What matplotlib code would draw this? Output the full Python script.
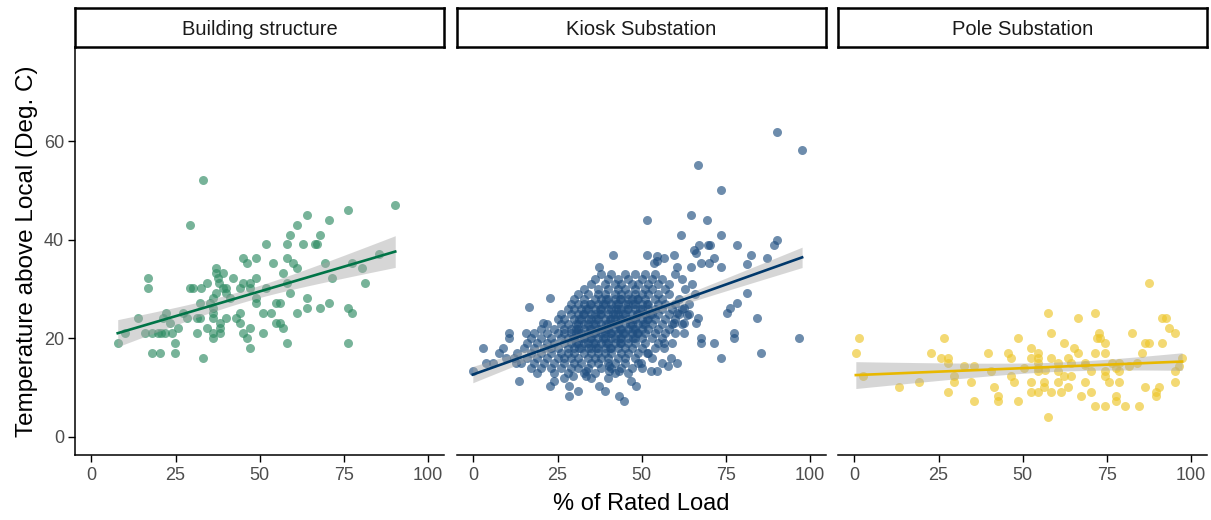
import numpy as np
import matplotlib
matplotlib.use("Agg")
import matplotlib.pyplot as plt

plt.rcParams['font.family'] = ['Liberation Sans', 'DejaVu Sans']

panel_titles = ["Building structure", "Kiosk Substation", "Pole Substation"]
point_colors = ["#2E8B63", "#1F4E80", "#EDC62A"]
line_colors = ["#007447", "#00386B", "#E8B800"]

# ---------------- Building structure ----------------
building_x = [7.8, 9.9, 13.9, 15.9, 16.9, 16.9, 17.9, 20.4, 17.9, 19.9, 20.8, 21.8, 23.8, 22.3, 21.4,
              23.3, 24.8, 24.8, 25.8, 27.3, 28.3, 29.2, 29.2, 30.2, 31.3, 31.3, 32.3, 32.3, 32.6, 33.2,
              33.2, 34.2, 34.2, 35.2, 36.1, 36.1, 36.1, 36.1, 36.1, 36.1, 37.1, 37.1, 37.5, 38.0, 37.1,
              38.1, 38.1, 38.1, 39.2, 39.1, 40.1, 40.1, 40.1, 41.1, 42.1, 43.1, 44.1, 44.1, 44.1, 45.1,
              45.1, 46.1, 45.1, 46.1, 47.1, 47.1, 47.1, 47.1, 49.0, 49.0, 49.0, 49.0, 51.0, 51.0, 52.0,
              52.0, 53.5, 54.0, 55.0, 56.0, 55.0, 56.0, 57.0, 57.0, 58.0, 58.0, 58.0, 58.0, 59.0, 59.0,
              60.0, 61.0, 61.0, 61.0, 63.0, 64.0, 64.0, 64.0, 67.0, 66.5, 68.0, 68.0, 69.5, 70.5, 70.5,
              71.4, 76.4, 76.4, 76.4, 77.4, 77.4, 80.4, 81.4, 85.4, 90.3]
building_y = [19.0, 21.1, 24.1, 21.1, 32.3, 30.2, 17.0, 17.0, 21.1, 21.1, 21.1, 21.1, 21.1, 25.1, 24.1,
              23.1, 19.0, 17.0, 22.1, 25.1, 24.1, 43.1, 30.2, 30.2, 21.1, 24.1, 24.1, 27.1, 30.2, 52.2,
              16.0, 22.1, 31.2, 27.1, 20.1, 21.1, 24.1, 25.1, 26.1, 28.1, 34.3, 33.3, 32.3, 31.2, 29.2,
              23.1, 21.1, 22.1, 30.2, 33.3, 30.2, 29.2, 24.1, 28.1, 32.3, 24.1, 25.1, 23.1, 30.2, 31.2,
              36.3, 35.3, 21.1, 20.1, 18.0, 22.1, 31.2, 30.2, 36.3, 32.3, 27.1, 28.1, 25.1, 21.1, 30.2,
              39.1, 25.1, 35.3, 27.1, 27.1, 23.1, 23.1, 22.1, 33.3, 19.0, 39.1, 36.3, 31.2, 41.1, 29.2,
              35.3, 43.1, 34.3, 25.1, 39.1, 45.1, 28.1, 26.1, 39.1, 39.1, 41.1, 26.1, 35.3, 44.1, 27.1,
              32.3, 46.1, 26.1, 19.0, 25.1, 35.3, 34.3, 31.2, 37.2, 47.1]

# ---------------- Kiosk Substation ----------------
# dense core, read row by row (temperature value : loads)
kiosk_core_rows = {
    33: [38, 41, 45, 48, 51, 54, 60],
    32: [36, 40, 43, 46, 50, 53, 56, 62],
    31: [35, 39, 42, 44, 47, 49, 52, 55, 58, 65],
    30: [33, 37, 40, 43, 45, 48, 51, 53, 57, 63],
    29: [31, 34, 37, 39, 42, 44, 46, 48, 50, 52, 55, 58, 66],
    28: [30, 33, 36, 38, 40, 42, 44, 46, 47, 49, 51, 54, 56, 61],
    27: [29, 31, 33, 35, 37, 39, 41, 43, 45, 46, 48, 50, 52, 55, 57, 60, 64],
    26: [28, 30, 32, 34, 36, 38, 40, 41, 43, 44, 46, 48, 50, 52, 54, 56, 59, 62],
    25: [26, 29, 31, 33, 35, 36, 38, 40, 42, 43, 45, 47, 49, 51, 53, 55, 58, 61, 64],
    24: [25, 27, 30, 32, 34, 35, 37, 39, 41, 42, 44, 46, 48, 50, 52, 54, 57, 60],
    23: [22, 26, 28, 31, 33, 34, 36, 38, 40, 41, 43, 45, 47, 49, 51, 53, 56, 59, 62],
    22: [20, 24, 27, 29, 31, 33, 35, 37, 38, 40, 42, 44, 46, 48, 50, 52, 55, 58],
    21: [18, 22, 25, 27, 29, 31, 32, 34, 36, 38, 39, 41, 43, 45, 47, 49, 51, 54, 57, 60],
    20: [17, 20, 23, 26, 28, 30, 32, 33, 35, 37, 39, 41, 42, 44, 46, 48, 50, 53, 56],
    19: [16, 19, 22, 24, 27, 29, 31, 33, 34, 36, 38, 40, 42, 44, 46, 48, 51, 55, 59],
    18: [15, 18, 21, 23, 25, 28, 30, 32, 34, 35, 37, 39, 41, 43, 45, 47, 50, 54],
    17: [13, 17, 20, 23, 26, 28, 30, 33, 35, 37, 39, 41, 44, 46, 49, 52],
    16: [12, 16, 19, 22, 25, 27, 29, 31, 34, 36, 38, 40, 43, 45, 48, 53],
    15: [14, 18, 21, 24, 27, 30, 32, 35, 37, 40, 42, 45, 49, 56],
    14: [17, 20, 23, 26, 29, 31, 34, 38, 41, 44, 47, 50],
    13: [19, 24, 28, 33, 36, 42, 46],
    12: [27, 35, 40],
}
# overlapping readings in the darkest centre of the cloud
kiosk_dense_rows = {
    28: [39.5, 43.5, 48.5],
    27: [34.5, 38.5, 42.5, 47.5, 51.5],
    26: [33.5, 37.5, 42.5, 45.5, 49.5],
    25: [32.5, 37.5, 41.5, 44.5, 48.5, 52.5],
    24: [31.5, 36.5, 40.5, 43.5, 47.5, 51.5],
    23: [30.5, 35.5, 39.5, 42.5, 46.5, 50.5],
    22: [30.5, 34.5, 39.5, 43.5, 47.5],
    21: [30.5, 35.5, 40.5, 44.5, 48.5],
    20: [29.5, 34.5, 38.5, 43.5, 47.5],
    19: [30.5, 35.5, 39.5, 43.5],
    18: [31.5, 36.5, 40.5],
}
kiosk_outer_x = [90.3, 97.7, 66.6, 73.5, 51.7, 64.6, 69.5, 61.6, 73.5, 66.9, 69.8, 70.3, 78.4, 90.3, 89.3,
                 65.6, 66.1, 82.4, 87.3, 81.4, 41.4, 51.7, 54.7, 56.7, 59.6, 53.7, 54.7, 37.4, 60.6, 64.6,
                 67.5, 70.0, 71.5, 73.5, 81.4, 78.4, 76.4, 75.4, 84.4, 96.7, 85.4, 73.5, 71.5, 67.5, 67.5,
                 77.4, 77.4, 66.1, 66.6, 62.6, 62.6, 59.6, 60.6, 63.6, 62.6, 16.6, 22.6, 20.6, 2.8, -0.2,
                 3.8, 5.7, 10.7, 10.7, 15.6, 13.6, 22.6, 24.0, 28.5, 28.5, 31.0, 29.5, 33.4, 33.4, 37.4,
                 39.0, 43.3, 44.8, 46.8, 48.3, 40.4, 43.3, 40.4, 49.7, 52.7, 54.7, 57.7, 60.6, 58.6, 51.7,
                 56.7, 56.7, 7.7, 9.7, 12.7, 8.7]
kiosk_outer_y = [62.0, 58.3, 55.2, 50.2, 44.1, 45.1, 44.1, 41.0, 41.0, 39.0, 39.0, 39.0, 39.0, 40.0, 39.0,
                 38.0, 37.4, 37.0, 36.4, 35.2, 37.0, 37.0, 36.8, 36.4, 37.0, 35.4, 35.8, 34.4, 34.4, 34.4,
                 35.4, 35.4, 36.4, 34.4, 29.3, 27.2, 26.2, 25.2, 24.2, 20.1, 17.1, 16.1, 19.1, 19.1, 20.1,
                 21.1, 20.1, 23.2, 24.2, 23.2, 21.1, 23.2, 25.2, 24.8, 26.2, 26.3, 28.3, 23.2, 18.1, 13.3,
                 15.0, 15.0, 21.1, 20.1, 21.1, 11.3, 10.3, 11.3, 10.3, 8.3, 9.3, 12.3, 12.3, 13.3, 10.3,
                 9.3, 8.3, 7.3, 11.3, 10.3, 13.3, 13.3, 14.4, 15.0, 13.3, 13.3, 14.4, 15.0, 16.1, 17.1,
                 18.1, 19.1, 17.1, 16.1, 15.0, 18.1]

# ---------------- Pole Substation ----------------
pole_x = [1.4, 0.4, 2.4, 13.3, 19.2, 22.7, 25.7, 27.7, 27.7, 26.7, 27.7, 29.7, 29.7, 32.6, 34.6, 35.6,
          35.6, 39.6, 40.6, 41.6, 42.6, 42.6, 45.5, 46.5, 46.5, 47.5, 48.5, 48.5, 52.5, 52.5, 52.5, 52.5,
          54.5, 54.5, 54.5, 54.5, 54.5, 54.5, 56.4, 56.4, 57.4, 57.4, 58.4, 58.4, 58.4, 60.4, 60.4, 60.4,
          61.4, 62.4, 62.4, 63.4, 63.4, 64.4, 64.4, 65.4, 66.4, 66.4, 67.4, 68.4, 68.4, 70.3, 70.3, 71.6,
          71.6, 71.6, 72.6, 72.1, 73.1, 74.6, 74.6, 74.6, 74.6, 74.6, 75.6, 76.6, 77.6, 77.6, 77.6, 78.6,
          78.6, 78.6, 80.5, 81.5, 82.5, 84.5, 85.5, 86.5, 87.5, 86.5, 87.5, 89.5, 89.5, 90.5, 91.5, 92.5,
          91.5, 93.4, 95.4, 95.4, 95.4, 96.4, 97.4, 50.5, 56.5, 68.5, 84.0]
pole_y = [20.1, 17.0, 12.3, 10.2, 11.2, 17.0, 16.0, 16.0, 15.0, 20.1, 9.2, 12.3, 11.2, 14.3, 11.2, 14.3,
          7.2, 17.0, 13.3, 10.2, 8.2, 7.2, 17.0, 16.0, 12.3, 11.2, 20.1, 7.2, 18.0, 16.0, 11.2, 9.2,
          17.0, 16.0, 15.0, 14.0, 13.3, 9.2, 11.2, 10.2, 25.1, 4.1, 21.1, 16.0, 9.2, 15.0, 13.3, 11.2,
          9.2, 19.0, 12.3, 16.0, 10.2, 15.0, 12.3, 18.0, 17.0, 24.1, 8.2, 15.0, 11.2, 13.3, 9.2, 25.1,
          17.0, 6.2, 21.1, 20.1, 20.1, 19.0, 17.0, 13.3, 12.3, 6.2, 11.2, 15.0, 14.0, 8.2, 7.2, 15.0,
          13.3, 11.2, 6.2, 14.3, 21.1, 6.2, 17.0, 19.0, 19.0, 10.2, 31.2, 9.2, 8.2, 10.2, 24.1, 24.1,
          19.0, 22.1, 21.1, 13.3, 11.2, 14.3, 16.0, 14.0, 13.5, 14.5, 15.0]

kiosk_x = ([float(v) for yv, xs in kiosk_core_rows.items() for v in xs]
           + [float(v) for yv, xs in kiosk_dense_rows.items() for v in xs] + kiosk_outer_x)
kiosk_y = ([float(yv) for yv, xs in kiosk_core_rows.items() for v in xs]
           + [float(yv) for yv, xs in kiosk_dense_rows.items() for v in xs] + kiosk_outer_y)

datasets = [(building_x, building_y), (kiosk_x, kiosk_y), (pole_x, pole_y)]

W, H = 1211, 520
fig = plt.figure(figsize=(W / 100, H / 100), dpi=100)

panel_left = [75, 457, 838]
panel_w = 369
plot_top, plot_bottom = 47, 455
strip_top = 8

for i, (xs, ys) in enumerate(datasets):
    xs = np.asarray(xs, float)
    ys = np.asarray(ys, float)
    ax = fig.add_axes([panel_left[i] / W, 1 - plot_bottom / H, panel_w / W, (plot_bottom - plot_top) / H])
    ax.scatter(xs, ys, s=42, color=point_colors[i], alpha=0.65, linewidths=0, zorder=2)

    # linear fit with 95% confidence band
    n = len(xs)
    A = np.vstack([np.ones(n), xs]).T
    beta, *_ = np.linalg.lstsq(A, ys, rcond=None)
    resid = ys - A @ beta
    s2 = resid @ resid / (n - 2)
    cov = s2 * np.linalg.inv(A.T @ A)
    xg = np.linspace(xs.min(), xs.max(), 80)
    G = np.vstack([np.ones_like(xg), xg]).T
    yg = G @ beta
    se = np.sqrt(np.einsum('ij,jk,ik->i', G, cov, G))
    tval = 1.97
    ax.fill_between(xg, yg - tval * se, yg + tval * se, color="#A6A6A6", alpha=0.45, linewidth=0, zorder=3)
    ax.plot(xg, yg, color=line_colors[i], lw=1.9, zorder=4)

    ax.set_xlim(-4.9, 104.8)
    ax.set_ylim(-3.7, 79.2)
    ax.set_xticks([0, 25, 50, 75, 100])
    ax.set_xticklabels(["0", "25", "50", "75", "100"])
    for sp in ["top", "right"]:
        ax.spines[sp].set_visible(False)
    ax.spines["bottom"].set_linewidth(1.1)
    ax.spines["left"].set_linewidth(1.1)
    ax.tick_params(axis="x", length=5, width=1.0, color="black", labelcolor="#4D4D4D", labelsize=13, pad=4)
    if i == 0:
        ax.set_yticks([0, 20, 40, 60])
        ax.tick_params(axis="y", length=5, width=1.0, labelcolor="#4D4D4D", color="black", labelsize=13, pad=3)
        ax.set_ylabel("Temperature above Local (Deg. C)", fontsize=17.5, color="black", labelpad=4)
    else:
        ax.spines["left"].set_visible(False)
        ax.set_yticks([])
    ax.set_facecolor("white")

    # strip
    sax = fig.add_axes([panel_left[i] / W, 1 - plot_top / H, panel_w / W, (plot_top - strip_top) / H])
    sax.set_xticks([])
    sax.set_yticks([])
    for sp in sax.spines.values():
        sp.set_linewidth(1.8)
        sp.set_color("black")
    sax.text(0.5, 0.45, panel_titles[i], ha="center", va="center", fontsize=14.5, color="#1A1A1A",
             transform=sax.transAxes)

fig.text(641 / W, 1 - 504 / H, "% of Rated Load", ha="center", va="center", fontsize=17, color="black")

fig.savefig("out.png", dpi=100, facecolor="white")
